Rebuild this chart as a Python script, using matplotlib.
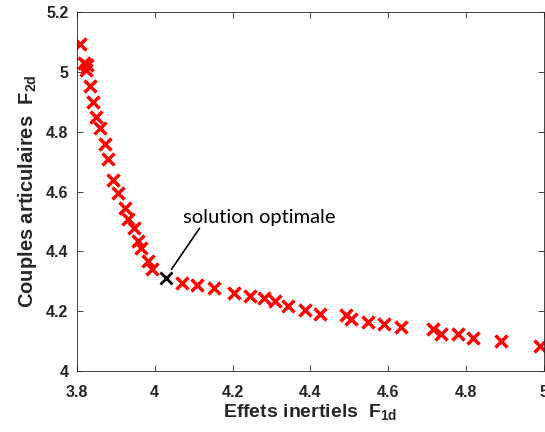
import numpy as np
import matplotlib.pyplot as plt

plt.rcParams['font.family'] = 'Liberation Sans'
plt.rcParams['mathtext.fontset'] = 'custom'
plt.rcParams['mathtext.bf'] = 'Liberation Sans:bold'
plt.rcParams['mathtext.rm'] = 'Liberation Sans:bold'

# front de Pareto (effets inertiels, couples articulaires)
f1 = [3.808, 3.819, 3.826, 3.824, 3.833, 3.842, 3.850, 3.859, 3.872, 3.879,
      3.893, 3.906, 3.923, 3.932, 3.946, 3.957, 3.966, 3.983, 3.992,
      4.071, 4.109, 4.152, 4.205, 4.246, 4.282, 4.308, 4.342, 4.385,
      4.426, 4.492, 4.504, 4.547, 4.590, 4.633, 4.716, 4.735, 4.780,
      4.819, 4.889, 4.990]
f2 = [5.093, 5.030, 5.022, 5.008, 4.954, 4.901, 4.851, 4.812, 4.760, 4.710,
      4.640, 4.596, 4.546, 4.507, 4.479, 4.434, 4.412, 4.368, 4.342,
      4.296, 4.287, 4.279, 4.262, 4.251, 4.243, 4.234, 4.218, 4.203,
      4.192, 4.187, 4.173, 4.164, 4.157, 4.149, 4.140, 4.123, 4.123,
      4.110, 4.101, 4.084]

opt_f1 = 4.028
opt_f2 = 4.310

xticks = [3.8, 4.0, 4.2, 4.4, 4.6, 4.8, 5.0]
xlabels = ['3.8', '4', '4.2', '4.4', '4.6', '4.8', '5']
yticks = [4.0, 4.2, 4.4, 4.6, 4.8, 5.0, 5.2]
ylabels = ['4', '4.2', '4.4', '4.6', '4.8', '5', '5.2']

fig = plt.figure(figsize=(5.45, 4.32), dpi=100)
ax = fig.add_axes([0.141, 0.141, 0.857, 0.831])

ax.plot(f1, f2, 'x', color='red', markersize=8.5, markeredgewidth=2.5)
ax.plot(opt_f1, opt_f2, 'x', color='black', markersize=8.5, markeredgewidth=2.0)

ax.annotate('solution optimale', xy=(4.043, 4.34), xytext=(4.073, 4.515),
            fontsize=14.5, family='Lato', color='black', va='center',
            arrowprops=dict(arrowstyle='-', color='black', lw=1.2,
                            shrinkA=0, shrinkB=0,
                            relpos=(0.12, 0.0)))

ax.set_xlim(3.8, 5.0)
ax.set_ylim(4.0, 5.2)
ax.set_xticks(xticks)
ax.set_xticklabels(xlabels)
ax.set_yticks(yticks)
ax.set_yticklabels(ylabels)
ax.tick_params(direction='in', top=True, right=True, length=4, width=0.6,
               color='#262626', labelsize=11.5, labelcolor='#262626', pad=6)
ax.tick_params(axis='x', pad=10)
for lab in ax.get_xticklabels() + ax.get_yticklabels():
    lab.set_fontweight('bold')
for sp in ax.spines.values():
    sp.set_color('#262626')
    sp.set_linewidth(0.6)

ax.set_xlabel('Effets inertiels  F$_{\\mathbf{1d}}$', fontsize=14,
              fontweight='bold', color='#262626', labelpad=2)
ax.set_ylabel('Couples articulaires  F$_{\\mathbf{2d}}$', fontsize=14.5,
              fontweight='bold', color='#262626', labelpad=5)

fig.savefig('out.png', dpi=100)
